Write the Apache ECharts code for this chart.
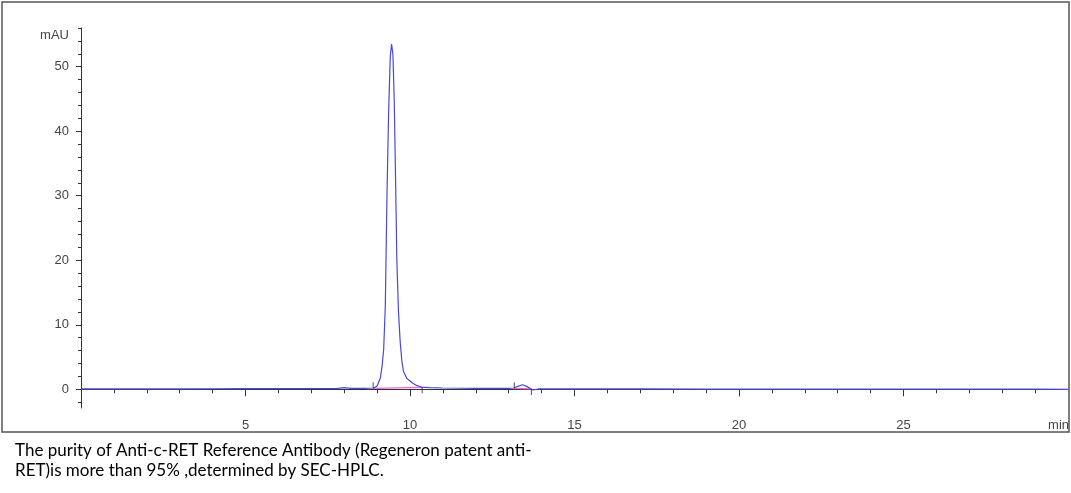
<!DOCTYPE html>
<html>
<head>
<meta charset="utf-8">
<style>
  html, body { margin: 0; padding: 0; background: #fff; }
  #chart { width: 1071px; height: 493px; }
</style>
<script src="https://cdn.jsdelivr.net/npm/echarts@6/dist/echarts.min.js"></script>
</head>
<body>
<div id="chart"></div>
<script>
// ---- data ----
var times = [0, 1, 2, 3, 4, 5, 6, 7, 7.8, 8.0, 8.2, 8.6, 8.9, 9.0, 9.1, 9.15, 9.2, 9.25, 9.3, 9.35, 9.4, 9.44, 9.48, 9.52, 9.56, 9.6, 9.65, 9.7, 9.75, 9.8, 9.9, 10.0, 10.1, 10.2, 10.35, 10.6, 11, 12, 13, 13.15, 13.3, 13.42, 13.55, 13.68, 13.75, 13.9, 15, 17, 19, 21, 23, 25, 27, 29, 30];
var signal = [0.05, 0.06, 0.08, 0.07, 0.08, 0.1, 0.1, 0.12, 0.15, 0.25, 0.15, 0.15, 0.2, 0.5, 1.8, 3.5, 6.2, 13, 30, 43, 51.5, 53.5, 52, 45, 33, 20, 12, 7.5, 4.5, 2.8, 1.7, 1.3, 0.9, 0.6, 0.35, 0.25, 0.2, 0.15, 0.15, 0.2, 0.5, 0.7, 0.45, 0.05, -0.1, 0.05, 0.05, 0.05, 0.04, 0.03, 0.03, 0.02, 0.02, 0.02, 0.0];
// integration baselines (start/end of each peak)
var peakStarts = [[8.88, 0.15], [13.17, 0.15]];
var peakEnds = [[10.37, 0.3], [13.69, 0.05]];
// tick values / labels
var xMajorTicks = [5, 10, 15, 20, 25];
var xMinorTicks = [1, 2, 3, 4, 6, 7, 8, 9, 11, 12, 13, 14, 16, 17, 18, 19, 21, 22, 23, 24, 26, 27, 28, 29];
var yMajorTicks = [0, 10, 20, 30, 40, 50];
var yMinorTicks = [-2, 2, 4, 6, 8, 12, 14, 16, 18, 22, 24, 26, 28, 32, 34, 36, 38, 42, 44, 46, 48, 52, 54, 56];
var xUnit = 'min';
var yUnit = 'mAU';
var caption = 'The purity of Anti-c-RET Reference Antibody (Regeneron patent anti-\nRET)is more than 95% ,determined by SEC-HPLC.';

var traceData = times.map(function (t, i) { return [t, signal[i]]; });

var axisColor = '#333';
var labelStyle = { color: '#444', fontSize: 13, fontFamily: 'Liberation Sans, Arial, sans-serif' };

var baselineSeries = peakStarts.map(function (s, i) {
  return {
    type: 'line', data: [s, peakEnds[i]], symbol: 'none', silent: true,
    lineStyle: { color: '#f060e0', width: 1.2 }, z: 3
  };
});

var chart = echarts.init(document.getElementById('chart'), null, { renderer: 'canvas' });
chart.setOption({
  animation: false,
  backgroundColor: '#fff',
  grid: { left: 81, right: 3, top: 28, bottom: 85, containLabel: false },
  xAxis: [{
    type: 'value', min: 0, max: 30, minInterval: 5, maxInterval: 5,
    axisLine: { show: true, lineStyle: { color: axisColor, width: 1 } },
    axisTick: { show: true, length: 7, customValues: xMajorTicks, lineStyle: { color: axisColor } },
    axisLabel: Object.assign({ margin: 11, customValues: xMajorTicks }, labelStyle),
    splitLine: { show: false }
  }, {
    type: 'value', min: 0, max: 30, position: 'bottom', minInterval: 1, maxInterval: 1,
    axisLine: { show: false },
    axisTick: { show: true, length: 4, customValues: xMinorTicks, lineStyle: { color: axisColor } },
    axisLabel: { show: false },
    splitLine: { show: false }
  }],
  yAxis: [{
    type: 'value', min: -2.9, max: 56, minInterval: 10, maxInterval: 10, position: 'left',
    name: yUnit, nameLocation: 'end', nameGap: -7,
    nameTextStyle: Object.assign({}, labelStyle, { align: 'right', verticalAlign: 'middle', padding: [0, 12, 0, 0] }),
    axisLine: { show: true, lineStyle: { color: axisColor, width: 1 } },
    axisTick: { show: true, length: 5, customValues: yMajorTicks, lineStyle: { color: axisColor } },
    axisLabel: Object.assign({ margin: 12, customValues: yMajorTicks }, labelStyle),
    splitLine: { show: false }
  }, {
    type: 'value', min: -2.9, max: 56, minInterval: 2, maxInterval: 2, position: 'left',
    axisLine: { show: false },
    axisTick: { show: true, length: 3, customValues: yMinorTicks, lineStyle: { color: axisColor } },
    axisLabel: { show: false },
    splitLine: { show: false }
  }],
  series: [{
    type: 'line', data: traceData, symbol: 'none', silent: true,
    lineStyle: { color: '#4848e0', width: 1.2 }, z: 4
  }].concat(baselineSeries).concat([{
    type: 'scatter', data: peakStarts, symbol: 'rect', symbolSize: [1, 6], symbolOffset: [0, -3],
    itemStyle: { color: '#222' }, silent: true, z: 5
  }, {
    type: 'scatter', data: peakEnds, symbol: 'rect', symbolSize: [1, 6], symbolOffset: [0, 3],
    itemStyle: { color: '#222' }, silent: true, z: 5
  }]),
  graphic: [{
    type: 'rect', silent: true, z: 0,
    shape: { x: 2, y: 2, width: 1067, height: 430 },
    style: { fill: null, stroke: '#555', lineWidth: 1.5 }
  }, {
    type: 'text', right: 2, top: 419, silent: true, z: 10,
    style: Object.assign({ text: xUnit, fill: labelStyle.color }, { fontSize: 13, fontFamily: labelStyle.fontFamily })
  }, {
    type: 'text', left: 15, top: 441, silent: true,
    style: { text: caption, fill: '#000', fontSize: 17, lineHeight: 20, fontFamily: 'Lato, Open Sans, sans-serif' }
  }]
});
</script>
</body>
</html>
